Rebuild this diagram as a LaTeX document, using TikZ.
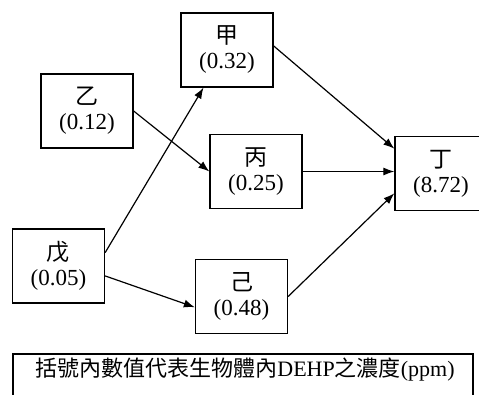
\documentclass[tikz,border=0pt]{standalone}
\usepackage{fontspec}
\setmainfont{Liberation Serif}
\newfontfamily\cjk{Noto Sans CJK TC}
\usepackage{tikz}
\usetikzlibrary{arrows.meta, positioning}
\tikzstyle{organism} = [rectangle, draw = black, line width = 1.3pt, minimum width = 92pt,
minimum height = 74pt, inner sep = 0pt, align = center, font = \fontsize{23}{25}\selectfont]
\tikzstyle{arrow} = [line width = 1.2pt, -{Latex[length = 11pt, width = 8pt]}]

\begin{document}
\begin{tikzpicture}[x = 1pt, y = -1pt]

    \useasboundingbox (0,0) rectangle (479,394);
    \clip (0,0) rectangle (479,394);

    \node (jia) [organism] at (227,50) {{\cjk 甲}\\(0.32)};
    \node (yi) [organism] at (87,111) {{\cjk 乙}\\(0.12)};
    \node (bing) [organism] at (256,171.5) {{\cjk 丙}\\(0.25)};
    \node (ding) [organism] at (441,173.5) {{\cjk 丁}\\(8.72)};
    \node (wu) [organism] at (58.5,266) {{\cjk 戊}\\(0.05)};
    \node (ji) [organism] at (241.5,296.5) {{\cjk 己}\\(0.48)};

    \draw[line width = 1.3pt] (13,354) rectangle (473,410);
    \node (note) at (245,370) {\fontsize{22}{26}\selectfont{\cjk 括號內數值代表生物體內}DEHP{\cjk 之濃度}(ppm)};

    \draw[arrow] (yi.east) -- (bing.west);
    \draw[arrow] (wu.16) -- (jia.238);
    \draw[arrow] (wu.-12) -- (ji.193);
    \draw[arrow] (jia.5) -- (ding.152);
    \draw[arrow] (bing.east) -- (bing.east -| ding.west);
    \draw[arrow] (ji.east) -- (ding.203);

\end{tikzpicture}
\end{document}
